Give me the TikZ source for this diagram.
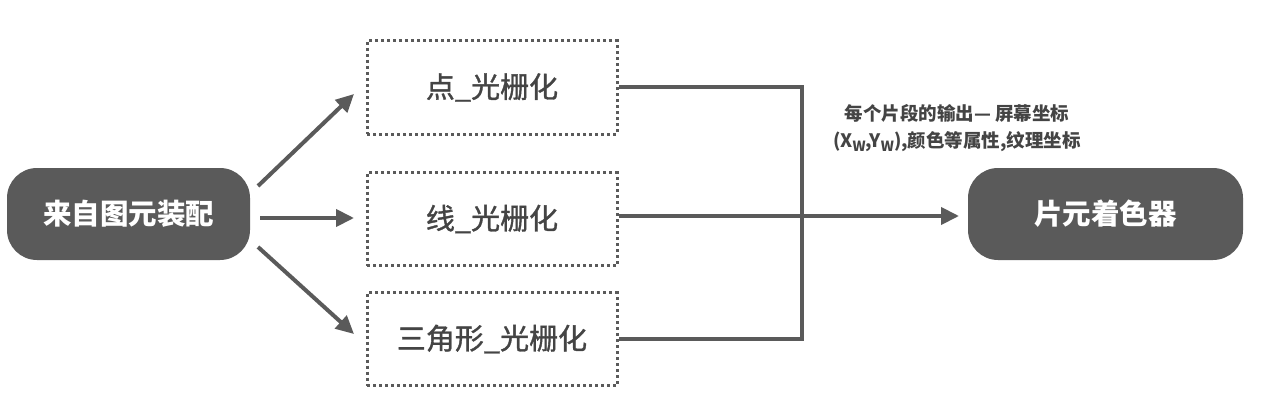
\documentclass[tikz,border=0pt]{standalone}
\usepackage{fontspec}
\setmainfont{Noto Sans CJK SC}
\newfontfamily\medfont{Noto Sans CJK SC}[FakeBold=1.2]
\usetikzlibrary{arrows.meta}
\definecolor{dg}{HTML}{5A5A5A}
\definecolor{tg}{HTML}{444444}
\begin{document}
\begin{tikzpicture}[x=1pt,y=-1pt,
  darkbox/.style={fill=dg, rounded corners=30pt, text=white, font=\fontsize{28.5}{32}\selectfont\bfseries, inner sep=0pt},
  dotbox/.style={draw=dg, line width=3pt, dash pattern=on 3pt off 3pt, text=tg, font=\medfont\fontsize{29}{32}\selectfont, inner sep=0pt},
  conn/.style={draw=dg, line width=4pt},
  arr/.style={conn, -{Triangle[length=18pt,width=17pt]}, shorten >=0pt}]
\useasboundingbox (0,0) rectangle (1279,420);
\node[darkbox, minimum width=243pt, minimum height=92pt] (src) at (128.5,214) {来自图元装配};
\node[darkbox, minimum width=275pt, minimum height=92pt] (fs) at (1105.5,214) {片元着色器};
\node[dotbox, minimum width=250pt, minimum height=93pt] (p) at (492,87.5) {点\_光栅化};
\node[dotbox, minimum width=250pt, minimum height=93pt] (l) at (492,219) {线\_光栅化};
\node[dotbox, minimum width=250pt, minimum height=93pt] (t) at (492,339) {三角形\_光栅化};
\coordinate (a1s) at (258,186);
\coordinate (a1e) at (354,94);
\coordinate (a2s) at (260,218);
\coordinate (a2e) at (354,218);
\coordinate (a3s) at (258,247);
\coordinate (a3e) at (354,334);
\draw[arr] (a1s) -- (a1e);
\draw[arr] (a2s) -- (a2e);
\draw[arr] (a3s) -- (a3e);
\coordinate (j1) at (802,87);
\coordinate (j3) at (802,339);
\coordinate (fsin) at (959,216);
\draw[conn] (p.east |- 0,87) -- (j1) -- (j3) -- (t.east |- 0,339);
\draw[arr] (l.east |- 0,216) -- (fsin);
\node[font=\fontsize{18.5}{27}\selectfont\bfseries, text=tg, align=center] (lbl) at (957,128.5)
  {每个片段的输出— 屏幕坐标\\(X\raisebox{-0.35ex}{\fontsize{14}{14}\selectfont W},Y\raisebox{-0.35ex}{\fontsize{14}{14}\selectfont W}),颜色等属性,纹理坐标};
\end{tikzpicture}
\end{document}
